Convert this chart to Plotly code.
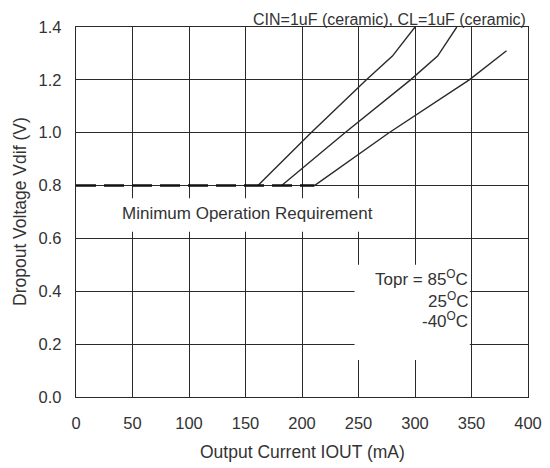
import plotly.graph_objects as go

# Data
iout_85 = [161, 208, 257, 280, 300]
vdif_85 = [0.80, 1.00, 1.20, 1.29, 1.40]
iout_25 = [182, 238, 296, 320, 337]
vdif_25 = [0.80, 1.00, 1.20, 1.29, 1.40]
iout_m40 = [211, 277, 348, 381]
vdif_m40 = [0.80, 1.00, 1.20, 1.31]
min_req_x = [0, 211]
min_req_y = [0.8, 0.8]

FONT = "Arial, Liberation Sans, sans-serif"
LINE = "#2a2a2a"
TXT = "#333"

fig = go.Figure()
for xs, ys in [(iout_85, vdif_85), (iout_25, vdif_25), (iout_m40, vdif_m40)]:
    fig.add_trace(go.Scatter(x=xs, y=ys, mode="lines",
                             line=dict(color=LINE, width=1.4), showlegend=False))
fig.add_trace(go.Scatter(x=min_req_x, y=min_req_y, mode="lines",
                         line=dict(color="#111", width=2.6, dash="20px,8px"),
                         showlegend=False))

# white boxes behind the labels
fig.add_shape(type="rect", xref="x", yref="y", x0=246.5, x1=348.5, y0=0.14, y1=0.5,
              fillcolor="white", line=dict(width=0), layer="above")
fig.add_shape(type="rect", xref="x", yref="y", x0=40, x1=290, y0=0.625, y1=0.752,
              fillcolor="white", line=dict(width=0), layer="above")

fig.add_annotation(x=152, y=0.696, text="Minimum Operation Requirement",
                   showarrow=False, font=dict(size=17, color=TXT, family=FONT))
fig.add_annotation(x=1.0, xref="paper", y=1.0, yref="paper", yanchor="bottom",
                   xanchor="right", yshift=-3,
                   text="CIN=1uF (ceramic), CL=1uF (ceramic)",
                   showarrow=False, font=dict(size=16, color=TXT, family=FONT))
for txt, yv in [("Topr = 85<sup>O</sup>C", 0.45), ("25<sup>O</sup>C", 0.367),
                ("-40<sup>O</sup>C", 0.291)]:
    fig.add_annotation(x=349, y=yv, xanchor="right", text=txt, showarrow=False,
                       font=dict(size=17, color=TXT, family=FONT))

# axis titles
fig.add_annotation(x=0.5, xref="paper", y=0, yref="paper", yanchor="middle",
                   yshift=-55, text="Output Current IOUT (mA)", showarrow=False,
                   font=dict(size=17.5, color=TXT, family=FONT))
fig.add_annotation(x=0, xref="paper", y=0.5, yref="paper", xanchor="center",
                   xshift=-56, textangle=-90, text="Dropout Voltage Vdif (V)",
                   showarrow=False, font=dict(size=17.5, color=TXT, family=FONT))

fig.update_layout(
    width=542, height=460,
    margin=dict(l=68, r=22, t=19, b=71),
    paper_bgcolor="white", plot_bgcolor="white",
    font=dict(family=FONT, size=17, color=TXT),
)
fig.update_xaxes(range=[0, 400], dtick=50, tick0=0, showgrid=True,
                 gridcolor=LINE, gridwidth=1.4, showline=True, linecolor=LINE,
                 linewidth=1.4, mirror=True, ticks="", zeroline=False,
                 automargin=False, ticklabelstandoff=11,
                 tickfont=dict(size=16.5))
fig.update_yaxes(range=[0, 1.4], dtick=0.2, tick0=0, tickformat=".1f",
                 showgrid=True, gridcolor=LINE, gridwidth=1.4, showline=True,
                 linecolor=LINE, linewidth=1.4, mirror=True, ticks="",
                 zeroline=False, automargin=False, ticklabelstandoff=10,
                 tickfont=dict(size=16.5))

fig.write_html("out.html")
